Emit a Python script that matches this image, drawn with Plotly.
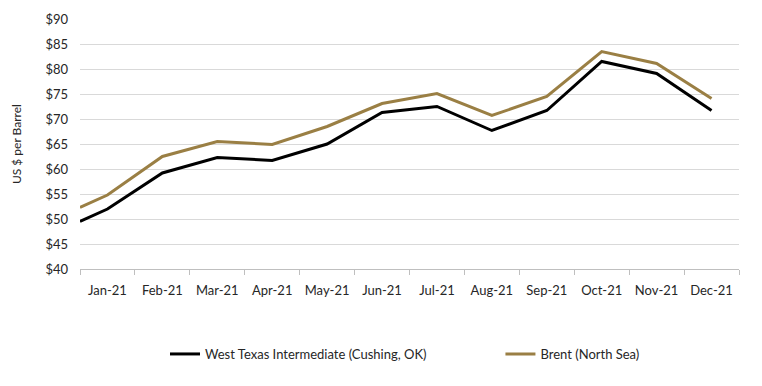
import plotly.graph_objects as go

month_labels = ["Jan-21", "Feb-21", "Mar-21", "Apr-21", "May-21", "Jun-21",
                "Jul-21", "Aug-21", "Sep-21", "Oct-21", "Nov-21", "Dec-21"]
# month index of each observation (first one sits at the start of January)
month_pos = [-0.5, 0, 1, 2, 3, 4, 5, 6, 7, 8, 9, 10, 11]
wti = [49.5, 52.0, 59.2, 62.3, 61.7, 65.0, 71.3, 72.5, 67.7, 71.7, 81.5, 79.1, 71.7]
brent = [52.3, 54.8, 62.5, 65.5, 64.9, 68.5, 73.1, 75.1, 70.7, 74.5, 83.5, 81.1, 74.1]
y_ticks = [40, 45, 50, 55, 60, 65, 70, 75, 80, 85, 90]

FONT = "Lato"
TXT = "#262626"

fig = go.Figure()
fig.add_trace(go.Scatter(x=month_pos, y=wti, mode="lines",
                         name="West Texas Intermediate (Cushing, OK)",
                         line=dict(color="#000000", width=3), legend="legend"))
fig.add_trace(go.Scatter(x=month_pos, y=brent, mode="lines",
                         name="Brent (North Sea)",
                         line=dict(color="#9A7F44", width=3), legend="legend2"))

leg_common = dict(orientation="h", yanchor="middle", xanchor="left", y=-0.34,
                  bgcolor="rgba(0,0,0,0)",
                  font=dict(family=FONT, size=13, color=TXT))

fig.update_layout(
    width=754, height=378,
    margin=dict(l=72, r=23, t=11, b=117, autoexpand=False),
    paper_bgcolor="white", plot_bgcolor="white",
    font=dict(family=FONT, size=13, color=TXT),
    showlegend=True,
    legend=dict(x=0.129, **leg_common),
    legend2=dict(x=0.638, **leg_common),
    xaxis=dict(range=[-0.5, 11.5], tickmode="array",
               tickvals=list(range(len(month_labels))), ticktext=month_labels,
               ticks="", showgrid=False, zeroline=False, automargin=False,
               showline=True, linecolor="#BFBFBF", linewidth=1,
               ticklabelstandoff=9,
               minor=dict(tickmode="array",
                          tickvals=[i - 0.5 for i in range(len(month_labels) + 1)],
                          ticks="outside", ticklen=5, tickcolor="#BFBFBF",
                          showgrid=False),
               tickfont=dict(size=13), fixedrange=True),
    yaxis=dict(range=[40, 90], tickmode="array", tickvals=y_ticks,
               ticktext=[f"${v}" for v in y_ticks], automargin=False,
               showgrid=True, gridcolor="#D9D9D9", gridwidth=1,
               zeroline=False, showline=False, ticks="",
               ticklabelstandoff=11,
               tickfont=dict(size=13), fixedrange=True),
    annotations=[dict(text="US $ per Barrel", xref="paper", yref="paper",
                      x=-0.097, y=0.5, xanchor="center", yanchor="middle",
                      textangle=-90, showarrow=False,
                      font=dict(family=FONT, size=12, color=TXT))],
)

fig.write_html("out.html")
